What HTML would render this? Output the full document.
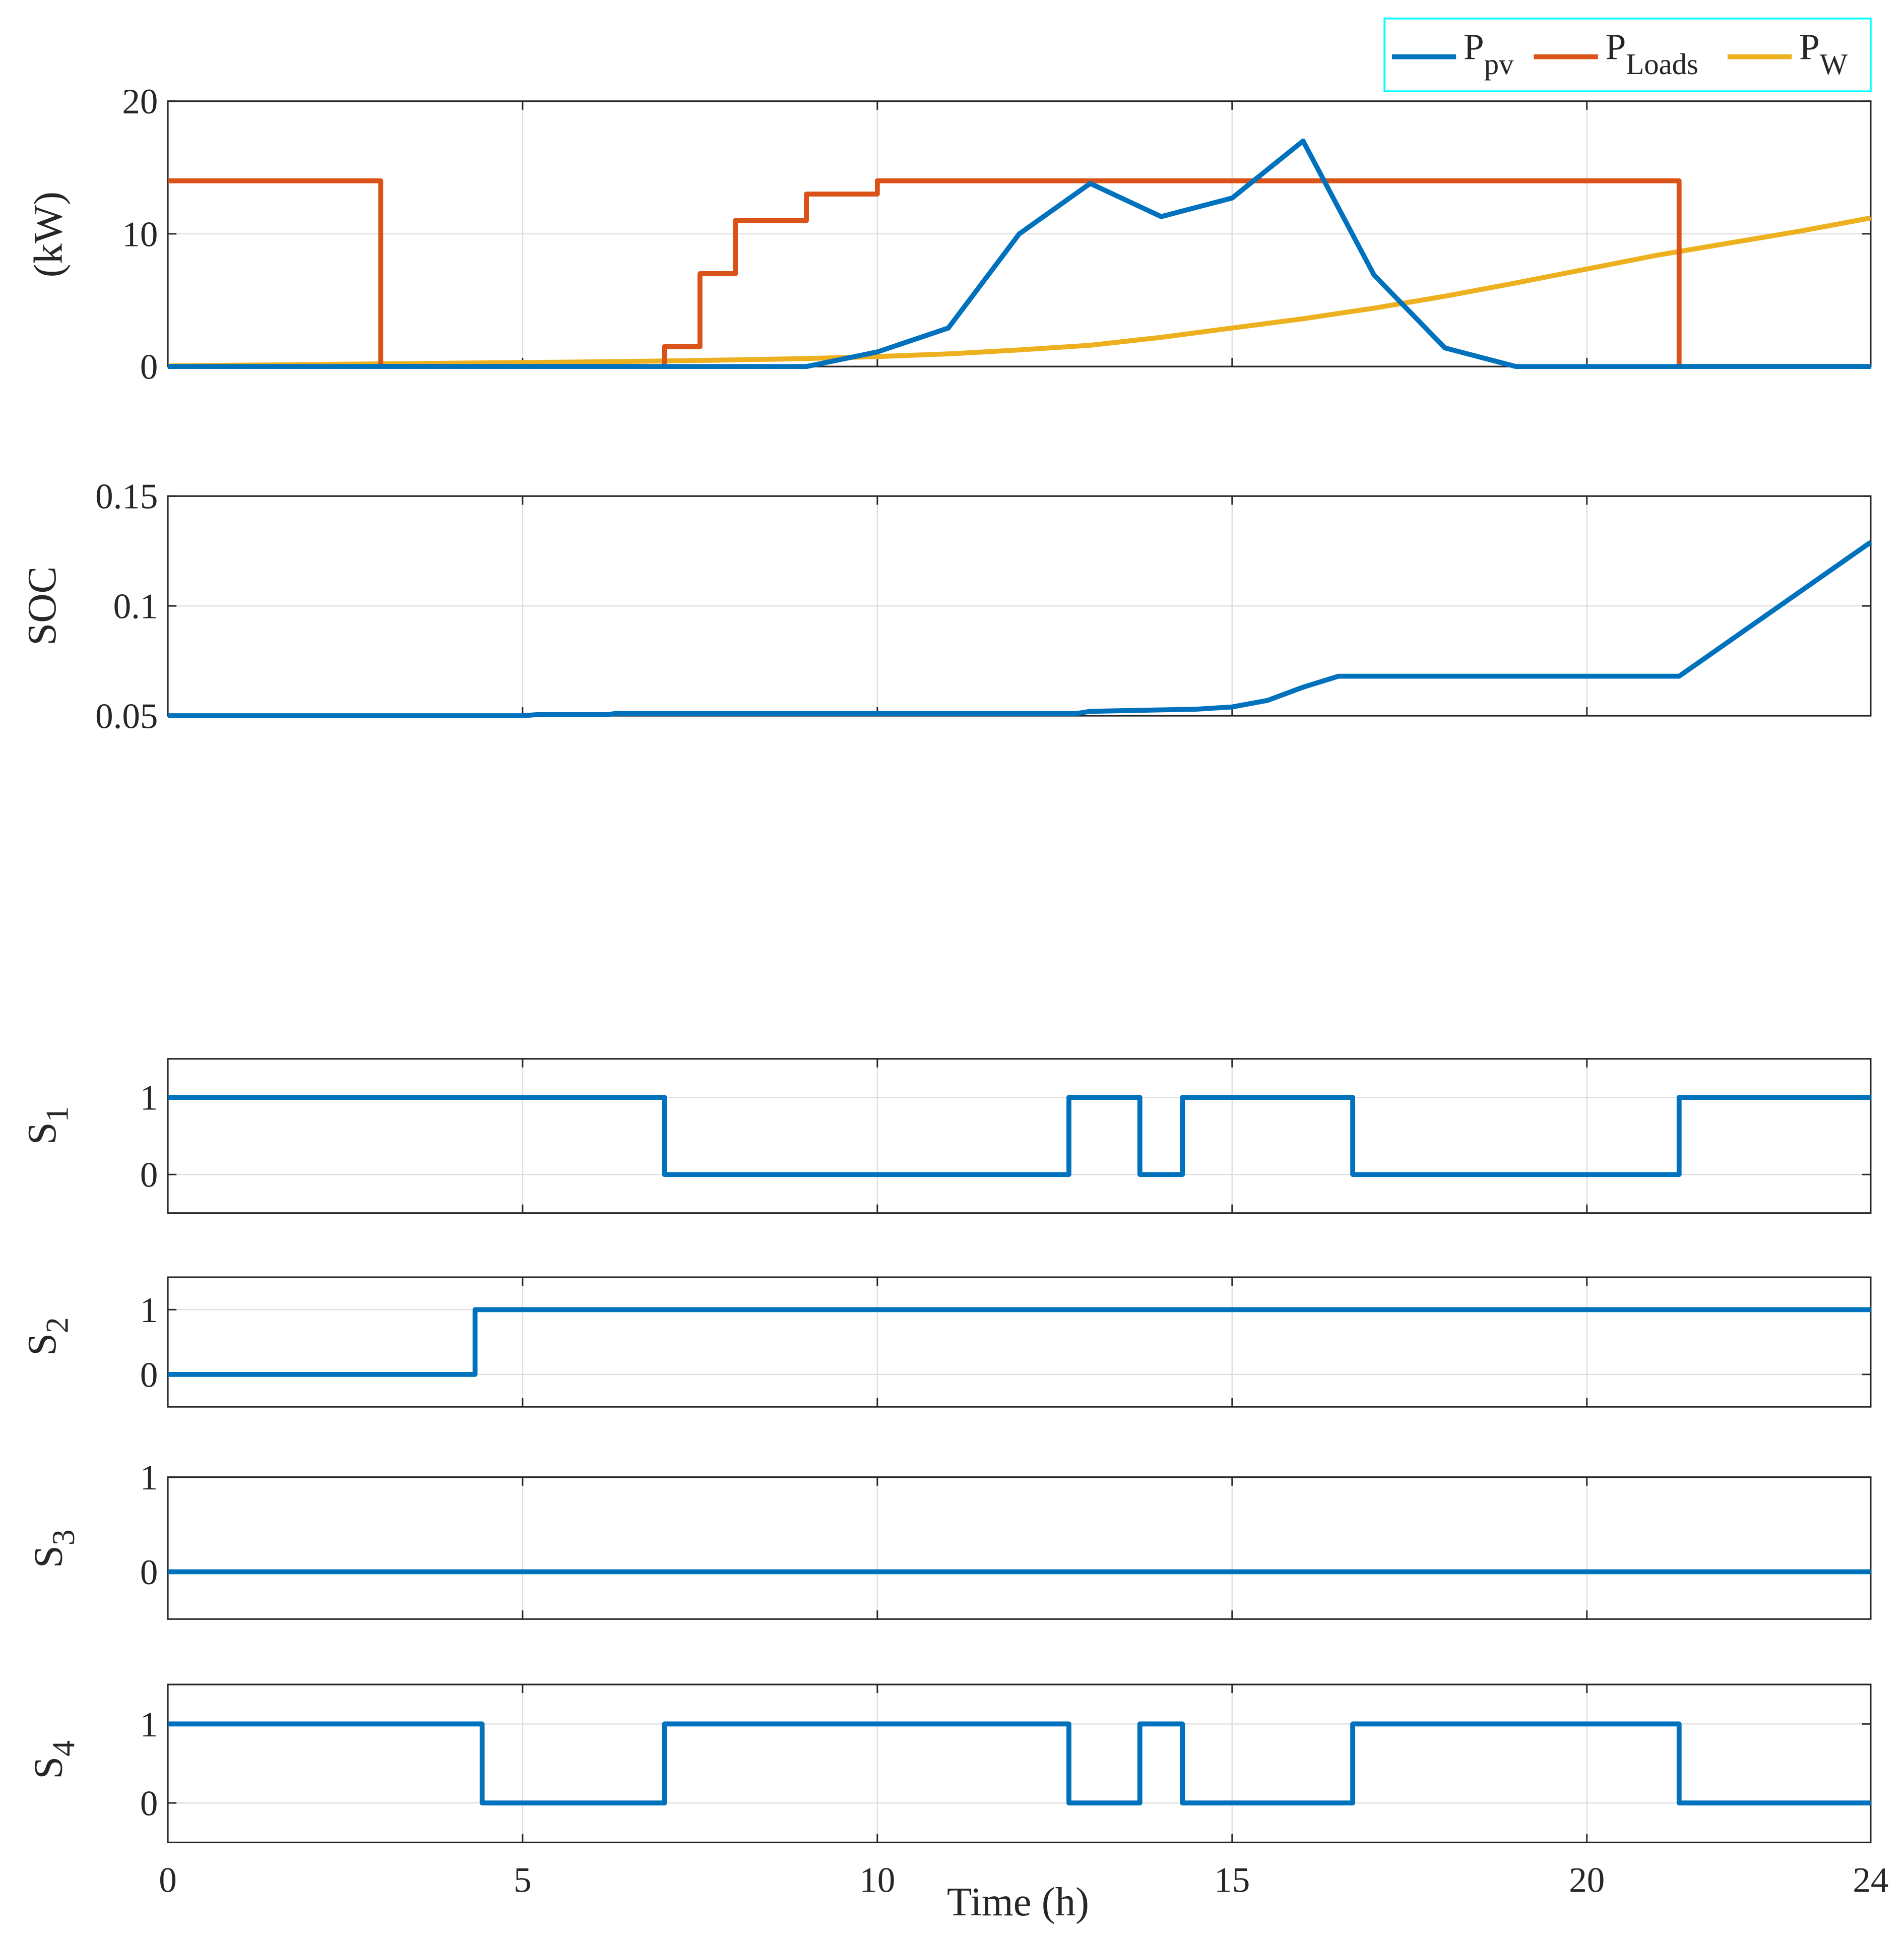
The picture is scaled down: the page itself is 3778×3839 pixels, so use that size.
<!DOCTYPE html>
<html><head><meta charset="utf-8"><style>
html,body{margin:0;padding:0;background:#fff}
svg{display:block}
text{font-family:"Liberation Serif",serif;fill:#262626}
</style></head><body>
<svg id="fig" width="3778" height="3839" viewBox="0 0 1543 1568" preserveAspectRatio="none" xmlns="http://www.w3.org/2000/svg"></svg>
<script>
// ---- data ----
const timeTicks=[0,5,10,15,20,24];
const loadT=[0,3,3,7,7,7.5,7.5,8,8,9,9,10,10,21.3,21.3,24];
const loadV=[14,14,0,0,1.5,1.5,7,7,11,11,13,13,14,14,0,0];
const pvT=[0,9,10,11,12,13,14,15,16,17,18,19,24];
const pvV=[0,0,1.1,2.9,10,13.8,11.3,12.7,17,6.9,1.4,0,0];
const windT=[0,1,2,3,4,5,6,7,8,9,10,11,12,13,14,15,16,17,18,19,20,21,22,23,24];
const windV=[0.05,0.1,0.15,0.2,0.25,0.3,0.35,0.42,0.5,0.6,0.75,0.95,1.25,1.6,2.2,2.9,3.6,4.4,5.3,6.3,7.35,8.4,9.3,10.2,11.2];
const socT=[0,5,5.2,6.2,6.3,12.8,13,14.5,15,15.5,16,16.5,21.3,24];
const socV=[0.05,0.05,0.0505,0.0505,0.051,0.051,0.052,0.053,0.054,0.057,0.063,0.068,0.068,0.129];
const s1T=[0,7,12.7,13.7,14.3,16.7,21.3];
const s1V=[1,0,1,0,1,0,1];
const s2T=[0,4.33];
const s2V=[0,1];
const s3T=[0];
const s3V=[0];
const s4T=[0,4.43,7,12.7,13.7,14.3,16.7,21.3];
const s4V=[1,0,1,0,1,0,1,0];

const NS="http://www.w3.org/2000/svg";
const svg=document.getElementById('fig');
const X0=136,X1=1516;
function xs(t){return X0+(t/24)*(X1-X0);}
function mk(tag,attrs,parent){const e=document.createElementNS(NS,tag);for(const k in attrs)e.setAttribute(k,attrs[k]);(parent||svg).appendChild(e);return e;}
const C={blue:'#0072BD',orange:'#D95319',yellow:'#EDB120'};

const panels=[
 {name:'power',top:82,bot:297,min:0,max:20,ticks:[0,10,20],labels:['0','10','20']},
 {name:'soc',top:402,bot:580,min:0.05,max:0.15,ticks:[0.05,0.1,0.15],labels:['0.05','0.1','0.15']},
 {name:'s1',top:858,bot:983,min:-0.5,max:1.5,ticks:[0,1],labels:['0','1']},
 {name:'s2',top:1035,bot:1140,min:-0.5,max:1.5,ticks:[0,1],labels:['0','1']},
 {name:'s3',top:1197,bot:1312,min:-0.5,max:1,ticks:[0,1],labels:['0','1']},
 {name:'s4',top:1365,bot:1493,min:-0.5,max:1.5,ticks:[0,1],labels:['0','1']}
];
function ys(p,v){return p.bot-(v-p.min)/(p.max-p.min)*(p.bot-p.top);}

function drawPanel(p,isLast){
 const g=mk('g',{});
 
 
 [5,10,15,20].forEach(t=>{const l=mk('line',{x1:xs(t),x2:xs(t),y1:p.top,y2:p.bot,stroke:'#dfdfdf','stroke-width':1},g);
  });
 p.ticks.forEach((v,i)=>{
  const y=ys(p,v);
  if(v!==p.min&&v!==p.max){const gl=mk('line',{x1:X0,x2:X1,y1:y,y2:y,stroke:'#dfdfdf','stroke-width':1},g);
   }
  mk('line',{x1:X0,x2:X0+7,y1:y,y2:y,stroke:'#262626','stroke-width':1.2},g);
  mk('line',{x1:X1,x2:X1-7,y1:y,y2:y,stroke:'#262626','stroke-width':1.2},g);
  const tx=mk('text',{x:X0-8,y:y+10,'text-anchor':'end','font-size':29},g);
  tx.textContent=p.labels[i];
  
 });
 timeTicks.forEach(t=>{
  mk('line',{x1:xs(t),x2:xs(t),y1:p.bot,y2:p.bot-7,stroke:'#262626','stroke-width':1.2},g);
  mk('line',{x1:xs(t),x2:xs(t),y1:p.top,y2:p.top+7,stroke:'#262626','stroke-width':1.2},g);
  if(isLast){const tx=mk('text',{x:xs(t),y:p.bot+40,'text-anchor':'middle','font-size':29},g);
   tx.textContent=String(t);}
 });
 const b=mk('rect',{x:X0,y:p.top,width:X1-X0,height:p.bot-p.top,fill:'none',stroke:'#262626','stroke-width':1.3},g);
 
 return g;
}
function line(p,T,V,color,name){
 const pts=T.map((t,i)=>xs(t).toFixed(2)+','+ys(p,V[i]).toFixed(2)).join(' ');
 const pl=mk('polyline',{points:pts,fill:'none',stroke:color,'stroke-width':4,'stroke-linejoin':'round'});
 
}
function step(p,T,V,color,name){
 const tt=[],vv=[];
 for(let i=0;i<T.length;i++){if(i>0){tt.push(T[i]);vv.push(V[i-1]);}tt.push(T[i]);vv.push(V[i]);}
 tt.push(24);vv.push(V[V.length-1]);
 line(p,tt,vv,color,name);
}
panels.forEach((p,i)=>drawPanel(p,i===panels.length-1));
line(panels[0],windT,windV,C.yellow,'p-w-line');
line(panels[0],loadT,loadV,C.orange,'p-loads-line');
line(panels[0],pvT,pvV,C.blue,'p-pv-line');
line(panels[1],socT,socV,C.blue,'soc-line');
step(panels[2],s1T,s1V,C.blue,'s1-line');
step(panels[3],s2T,s2V,C.blue,'s2-line');
step(panels[4],s3T,s3V,C.blue,'s3-line');
step(panels[5],s4T,s4V,C.blue,'s4-line');

function ylab(cx,cy,main,sub,name){
 const t=mk('text',{transform:'translate('+cx+','+cy+') rotate(-90)','text-anchor':'middle','font-size':33});
 
 const a=mk('tspan',{},t);a.textContent=main;
 if(sub){const s=mk('tspan',{dy:10,'font-size':26},t);s.textContent=sub;}
}
ylab(50,190,'(kW)',null,'power-y-label');
ylab(45,491,'SOC',null,'soc-y-label');
ylab(45,912,'S','1','s1-y-label');
ylab(45,1083,'S','2','s2-y-label');
ylab(50,1255,'S','3','s3-y-label');
ylab(50,1426,'S','4','s4-y-label');
const xl=mk('text',{x:825,y:1552,'text-anchor':'middle','font-size':33});
xl.textContent='Time (h)';


const lg=mk('g',{});

mk('rect',{x:1122,y:15,width:394,height:59,fill:'#fff',stroke:'#00FFFF','stroke-width':1.5},lg);
[[1128,C.blue,'pv','legend-entry-p-pv'],[1243,C.orange,'Loads','legend-entry-p-loads'],[1400,C.yellow,'W','legend-entry-p-w']].forEach(e=>{
 const eg=mk('g',{},lg);
 
 mk('line',{x1:e[0],x2:e[0]+52,y1:46,y2:46,stroke:e[1],'stroke-width':4},eg);
 const t=mk('text',{x:e[0]+58,y:48,'font-size':30},eg);
 const a=mk('tspan',{},t);a.textContent='P';
 const s=mk('tspan',{dy:12,'font-size':24},t);s.textContent=e[2];
});
</script>
</body></html>
